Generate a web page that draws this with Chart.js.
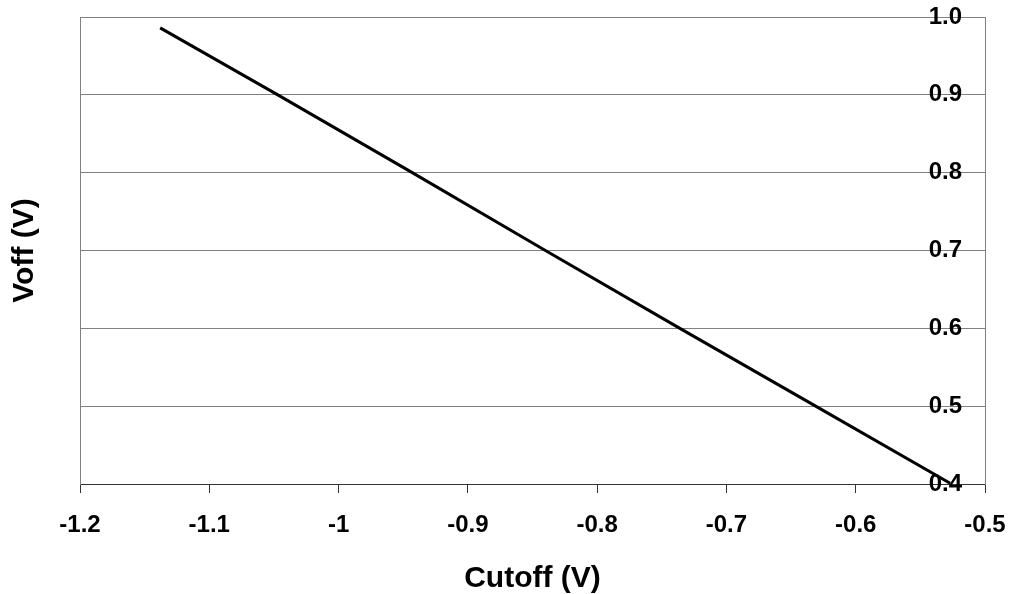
<!DOCTYPE html>
<html lang="en">
<head>
    <meta charset="UTF-8">
    <title>Voff vs Cutoff</title>
    <script src="https://cdn.jsdelivr.net/npm/chart.js"></script>
    <style>
        body { margin: 0; background: #fff; }
        .grafico { width: 1013px; height: 594px; }
    </style>
</head>
<body>
    <div class="grafico">
        <canvas id="chartVoff"></canvas>
    </div>
<script>
    // valores
    var cutoff = [-1.138, -1.047, -0.943, -0.840, -0.736, -0.631, -0.527];
    var voff = [0.986, 0.900, 0.800, 0.700, 0.600, 0.500, 0.401];

    var xTicks = [-1.2, -1.1, -1.0, -0.9, -0.8, -0.7, -0.6, -0.5];
    var xTickLabels = ['-1.2', '-1.1', '-1', '-0.9', '-0.8', '-0.7', '-0.6', '-0.5'];
    var yTicks = [0.4, 0.5, 0.6, 0.7, 0.8, 0.9, 1.0];
    var yTickLabels = ['0.4', '0.5', '0.6', '0.7', '0.8', '0.9', '1.0'];

    var pontos = cutoff.map(function (c, i) { return { x: c, y: voff[i] }; });

    var fonteTick = { family: 'Liberation Sans', size: 24, weight: 'bold' };
    var fonteTitulo = { family: 'Liberation Sans', size: 30, weight: 'bold' };

    function setTicks(lista) {
        return function (scale) {
            scale.ticks = lista.map(function (v) { return { value: v }; });
        };
    }

    // sem folga extra para os rotulos, a area do grafico fica fixa
    function semPadding(s) {
        s.paddingTop = 0;
        s.paddingBottom = 0;
        s.paddingLeft = 0;
        s.paddingRight = 0;
    }

    const ctx = document.getElementById('chartVoff');

    new Chart(ctx, {
        type: 'scatter',
        data: {
            datasets: [{
                label: 'Voff',
                data: pontos,
                showLine: true,
                borderColor: '#000',
                borderWidth: 3,
                pointRadius: 0,
                fill: false
            }]
        },
        options: {
            responsive: true,
            maintainAspectRatio: false,
            animation: false,
            layout: { padding: { top: 17, right: 28, bottom: 0, left: 0 } },
            plugins: { legend: { display: false }, tooltip: { enabled: false } },
            scales: {
                x: {
                    type: 'linear',
                    min: -1.2,
                    max: -0.5,
                    afterBuildTicks: setTicks(xTicks),
                    afterFit: function (s) { s.height = 110; semPadding(s); },
                    grid: { drawOnChartArea: false, drawTicks: true, tickLength: 9, color: '#333' },
                    border: { color: '#333', width: 1 },
                    ticks: {
                        color: '#000',
                        font: fonteTick,
                        padding: 18,
                        maxRotation: 0,
                        callback: function (v, i) { return xTickLabels[i]; }
                    },
                    title: {
                        display: true,
                        text: 'Cutoff (V)',
                        color: '#000',
                        font: fonteTitulo,
                        padding: { top: 0, bottom: -3 }
                    }
                },
                y: {
                    type: 'linear',
                    position: 'left',
                    min: 0.4,
                    max: 1.0,
                    afterBuildTicks: setTicks(yTicks),
                    afterFit: function (s) { s.width = 80; semPadding(s); },
                    grid: { color: '#808080', drawTicks: false },
                    border: { color: '#808080' },
                    ticks: { display: false },
                    title: {
                        display: true,
                        text: 'Voff (V)',
                        color: '#000',
                        font: fonteTitulo,
                        padding: { top: 7, bottom: 0 }
                    }
                },
                y2: {
                    type: 'linear',
                    position: 'right',
                    min: 0.4,
                    max: 1.0,
                    afterBuildTicks: setTicks(yTicks),
                    afterFit: function (s) { s.width = 0; semPadding(s); },
                    grid: { drawOnChartArea: false, drawTicks: false },
                    border: { color: '#808080' },
                    ticks: {
                        mirror: true,
                        padding: -23,
                        color: '#000',
                        font: fonteTick,
                        callback: function (v, i) { return yTickLabels[i]; }
                    }
                }
            }
        }
    });
</script>
</body>
</html>
